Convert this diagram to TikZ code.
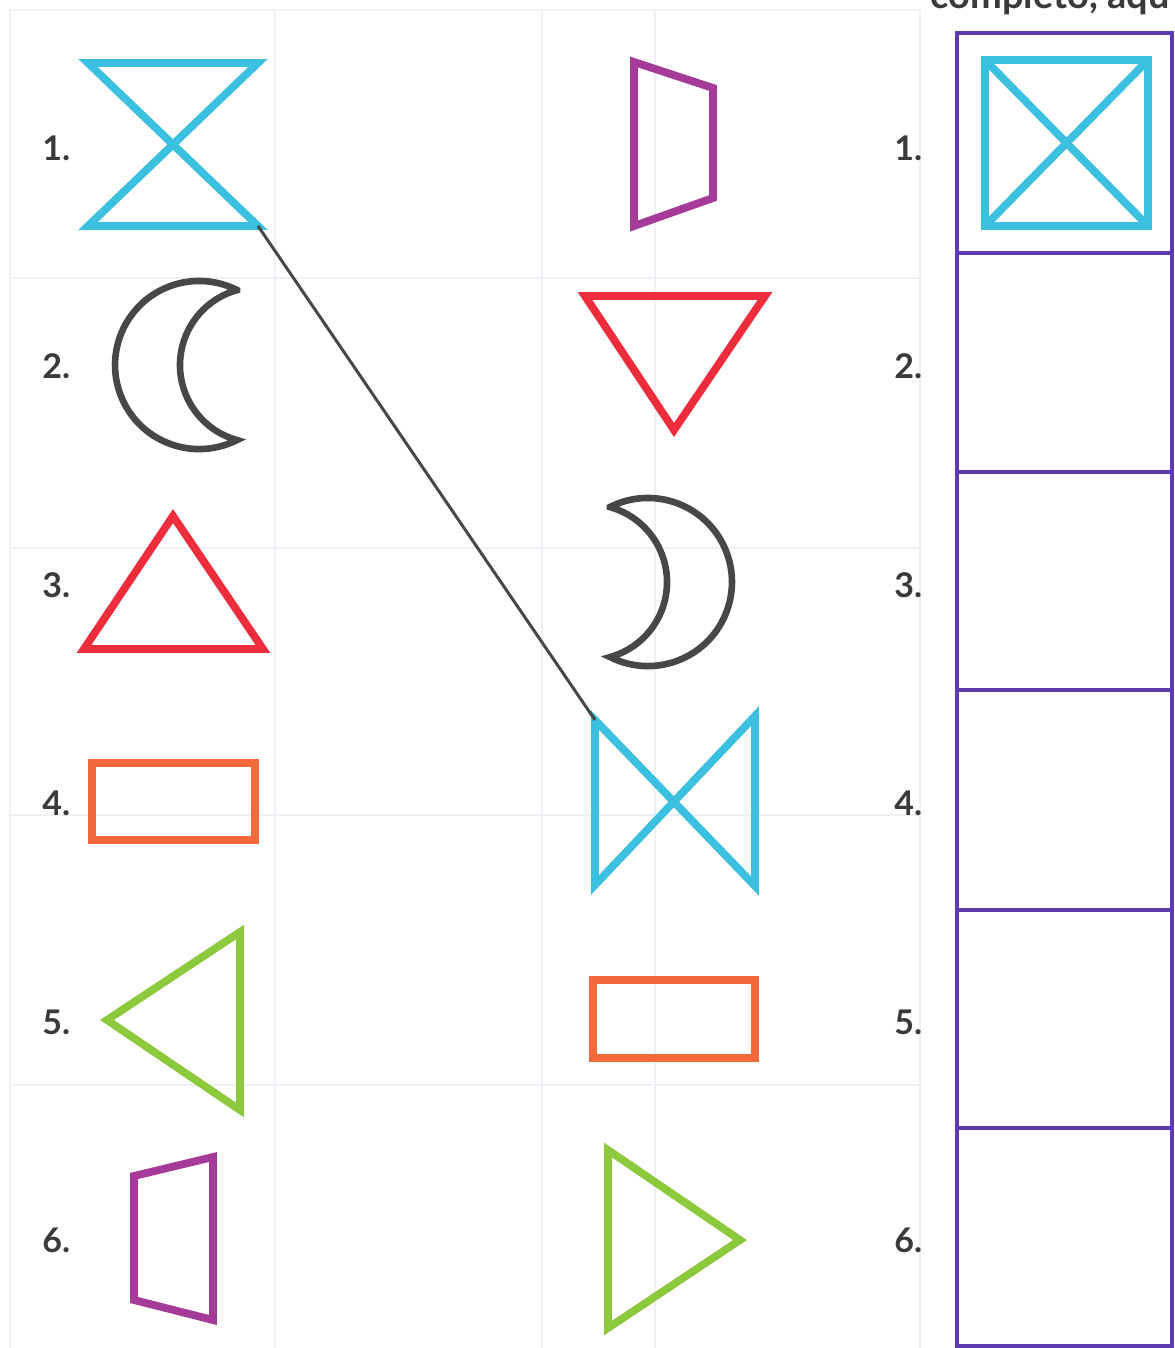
\documentclass[tikz,border=0pt]{standalone}
\usepackage{fontspec}
\setmainfont{Lato}
\begin{document}
\begin{tikzpicture}[x=0.5pt,y=0.5pt,
  shp/.style={line width=3.9pt,line join=miter},
  num/.style={font=\fontsize{17pt}{19pt}\selectfont\bfseries,text=numgray,anchor=west,inner sep=0pt},
  box/.style={draw=boxpurple,line width=1.6pt},
  faint/.style={draw=faintgrid,line width=1pt}]
\definecolor{cyanS}{HTML}{3CC0DF}
\definecolor{moongray}{HTML}{474747}
\definecolor{redS}{HTML}{EE2D3C}
\definecolor{orangeS}{HTML}{F3693B}
\definecolor{greenS}{HTML}{8DC93C}
\definecolor{magS}{HTML}{A63A98}
\definecolor{boxpurple}{HTML}{5E3CB0}
\definecolor{numgray}{HTML}{3A3A3A}
\definecolor{faintgrid}{HTML}{EFEFF6}
\useasboundingbox (0,0) rectangle (1174,-1348);
\clip (0,0) rectangle (1174,-1348);
% faint grid showing through the page
\foreach \xx in {10,275,542,655,920} \draw[faint] (\xx,-10) -- (\xx,-1348);
\foreach \yy in {10,278,548,815,1085} \draw[faint] (10,-\yy) -- (920,-\yy);
% heading (cut off at top, as in the reference)
\node[anchor=base west,inner sep=0pt,text=numgray,font=\fontsize{19pt}{22pt}\selectfont\bfseries] (head) at (930,-9) {completo, aqu};
% left numbers
\foreach \n/\yy in {1/148,2/366,3/585,4/803,5/1022,6/1240}
  \node[num] (L\n) at (42,-\yy) {\n.};
% right numbers
\foreach \n/\yy in {1/148,2/366,3/585,4/803,5/1022,6/1240}
  \node[num] (R\n) at (894,-\yy) {\n.};
% ---- left column shapes
% 1 hourglass
\coordinate (h1a) at (88,-63);
\coordinate (h1b) at (258,-63);
\coordinate (h1c) at (88,-226);
\coordinate (h1d) at (258,-226);
\draw[shp,cyanS] (h1a) -- (h1b) -- (h1c) -- (h1d) -- cycle;
% 2 moon (opening right)
\draw[moongray,line width=3.3pt,line join=miter] (237,-290)
   arc[start angle=63.2,end angle=296.8,radius=42.03pt]
   arc[start angle=254.5,end angle=105.5,radius=38.9pt] -- cycle;
% 3 triangle up
\draw[shp,redS] (173,-516) -- (263,-649) -- (84,-649) -- cycle;
% 4 rectangle
\draw[shp,orangeS] (92,-763) rectangle (255,-840);
% 5 triangle left
\draw[shp,greenS] (107,-1020) -- (240,-932) -- (240,-1110) -- cycle;
% 6 trapezoid
\draw[shp,magS] (134,-1176) -- (213,-1157) -- (213,-1320) -- (134,-1300) -- cycle;
% ---- middle column shapes
% 1 trapezoid
\draw[shp,magS] (634,-62) -- (713,-88) -- (713,-198) -- (634,-226) -- cycle;
% 2 triangle down
\draw[shp,redS] (585,-296) -- (765,-296) -- (674,-430) -- cycle;
% 3 moon (opening left)
\draw[moongray,line width=3.3pt,line join=miter] (610,-507)
   arc[start angle=116.8,end angle=-116.8,radius=42.03pt]
   arc[start angle=-74.5,end angle=74.5,radius=38.9pt] -- cycle;
% 4 bowtie
\coordinate (b4a) at (595,-720);
\coordinate (b4b) at (755,-886);
\coordinate (b4c) at (755,-716);
\coordinate (b4d) at (595,-885);
\draw[shp,cyanS] (b4a) -- (b4b) -- (b4c) -- (b4d) -- cycle;
% 5 rectangle
\draw[shp,orangeS] (593,-980) rectangle (755,-1058);
% 6 triangle right
\draw[shp,greenS] (608,-1150) -- (740,-1240) -- (608,-1328) -- cycle;
% ---- connector
\draw[moongray,line width=1.5pt] (h1d) -- (b4a);
% ---- right column boxes
\foreach \ya/\yb in {33/253,253/472,472/690,690/910,910/1128,1128/1346}
  \draw[box] (957,-\ya) rectangle (1172,-\yb);
% square with X
\draw[shp,cyanS] (985,-60) rectangle (1148,-226);
\draw[shp,cyanS] (985,-60) -- (1148,-226) (1148,-60) -- (985,-226);
\end{tikzpicture}
\end{document}
